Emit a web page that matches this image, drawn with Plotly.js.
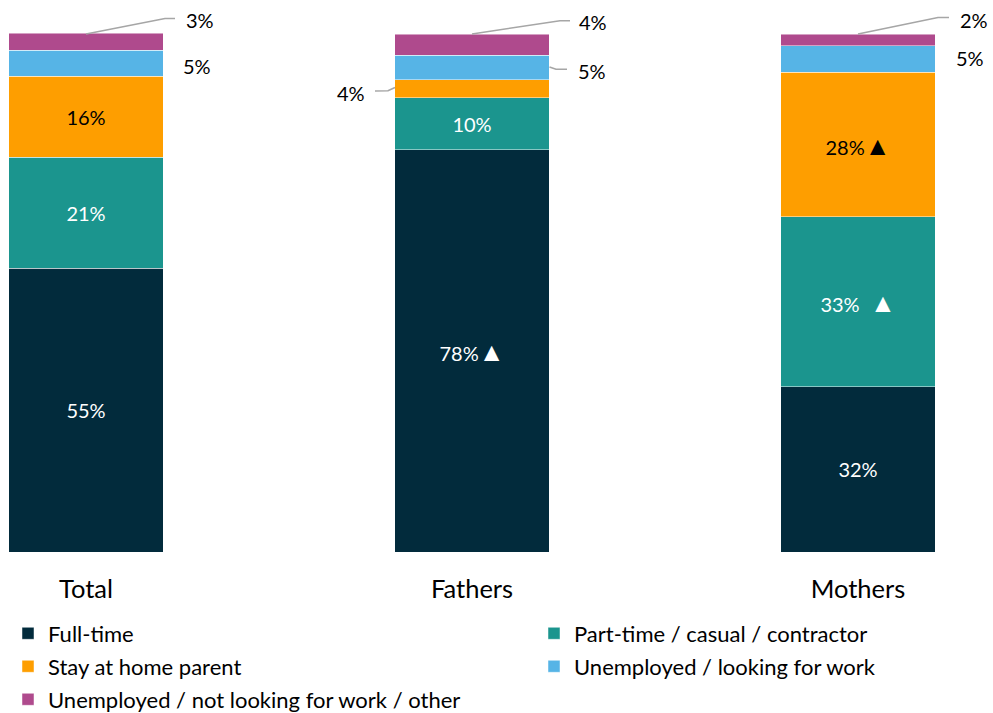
<!DOCTYPE html>
<html>
<head>
<meta charset="utf-8">
<script src="https://cdn.plot.ly/plotly-3.0.1.min.js"></script>
<style>html,body{margin:0;padding:0;background:#fff;}#chart{width:993px;height:713px;}</style>
</head>
<body>
<div id="chart"></div>
<script>
// ---- data ----
const categories = ['Total', 'Fathers', 'Mothers'];
const seriesNames = ['Full-time', 'Part-time / casual / contractor', 'Stay at home parent', 'Unemployed / looking for work', 'Unemployed / not looking for work / other'];
const fullTime    = [54.7, 77.5, 31.8];
const partTime    = [21.4, 10.0, 32.8];
const stayHome    = [15.6, 3.5, 27.8];
const lookingWork = [5.0, 4.7, 5.1];
const otherNotLooking = [3.3, 4.05, 2.3];
const TRI = '<span style="font-size:26px">\u25B2</span>';
const fullTimeLabels = ['55%', '78%' + TRI, '32%'];
const partTimeLabels = ['21%', '10%', '33% \u00A0' + TRI];
const stayHomeLabels = ['16%', '', '28%' + TRI];
const lookingWorkLabels = ['5%', '5%', '5%'];
const otherLabels = ['3%', '4%', '2%'];
const fathersStayLabel = '4%';

const colors = ['#022B3C', '#1B958E', '#FE9E00', '#56B4E6', '#AF4A8D'];
const FONT = 'Lato, "Open Sans", sans-serif';
const W = 993, H = 713, T = 33, B = 161;
const plotH = H - T - B;
const px = x => x / W;
const py = y => (H - B - y) / plotH;

function barTrace(i, vals, labels, txtColor, legendName) {
  return {
    type: 'bar', x: categories, y: vals, name: seriesNames[i],
    marker: {color: colors[i], line: {color: 'rgba(255,255,255,0.6)', width: 0.8}},
    text: labels || vals.map(() => ''),
    textposition: 'inside', insidetextanchor: 'middle', textangle: 0,
    constraintext: 'none',
    textfont: {family: FONT, size: 20, color: txtColor},
    hoverinfo: 'skip',
    legend: legendName, legendgroup: 'g' + i
  };
}

const traces = [
  barTrace(0, fullTime, fullTimeLabels, '#ffffff', 'legend'),
  barTrace(1, partTime, partTimeLabels, '#ffffff', 'legend2'),
  barTrace(2, stayHome, stayHomeLabels, '#000000', 'legend'),
  barTrace(3, lookingWork, null, '#000000', 'legend2'),
  barTrace(4, otherNotLooking, null, '#000000', 'legend')
];

function leader(points) {
  let d = points.map((p, k) => (k ? 'L' : 'M') + px(p[0]) + ',' + py(p[1])).join(' ');
  return {type: 'path', xref: 'paper', yref: 'paper', path: d,
          line: {color: '#A6A6A6', width: 1.6}};
}
const shapes = [
  leader([[86, 34], [165, 18.5], [175, 18.5]]),
  leader([[472, 34], [560, 20.7], [570, 20.7]]),
  leader([[549.5, 67], [556, 69.3], [567, 69.3]]),
  leader([[395, 87.5], [388, 90.8], [375, 91]]),
  leader([[858, 34], [938, 17.5], [949, 17.5]])
];

function lab(text, x, y, anchor) {
  return {text: text, xref: 'paper', yref: 'paper', x: px(x), y: py(y),
          xanchor: anchor || 'left', yanchor: 'middle', showarrow: false,
          font: {family: FONT, size: 20, color: '#000'}};
}
const annotations = [
  lab(otherLabels[0], 184, 20.5),
  lab(lookingWorkLabels[0], 181, 65.5),
  lab(otherLabels[1], 577, 22.5),
  lab(lookingWorkLabels[1], 576, 71),
  lab(fathersStayLabel, 367, 93, 'right'),
  lab(otherLabels[2], 958, 20),
  lab(lookingWorkLabels[2], 954, 58)
];

const legendFont = {family: FONT, size: 22, color: '#000'};
const layout = {
  width: W, height: H,
  margin: {l: 0, r: 0, t: T, b: B, autoexpand: false},
  paper_bgcolor: '#fff', plot_bgcolor: '#fff',
  barmode: 'stack', bargap: 0.6,
  font: {family: FONT, color: '#000'},
  xaxis: {type: 'category', range: [-86 / 386, 907 / 386], showgrid: false, zeroline: false,
          showline: false, ticks: '', tickfont: {family: FONT, size: 25.5, color: '#000'},
          ticklabelstandoff: 19, fixedrange: true},
  yaxis: {range: [0, 100], visible: false, fixedrange: true},
  showlegend: true,
  legend: {x: px(8), xanchor: 'left', y: py(612.5), yanchor: 'top', orientation: 'v',
           traceorder: 'grouped', tracegroupgap: 1.4, font: legendFont, bgcolor: 'rgba(0,0,0,0)'},
  legend2: {x: px(534), xanchor: 'left', y: py(612.5), yanchor: 'top', orientation: 'v',
           traceorder: 'grouped', tracegroupgap: 1.4, font: legendFont, bgcolor: 'rgba(0,0,0,0)'},
  shapes: shapes,
  annotations: annotations
};

Plotly.newPlot('chart', traces, layout, {displayModeBar: false, staticPlot: true});
</script>
</body>
</html>
